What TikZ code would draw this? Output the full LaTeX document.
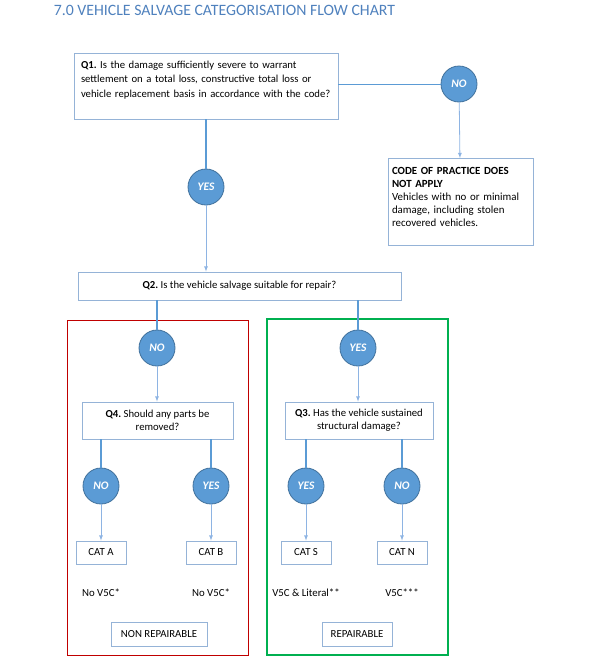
\documentclass[tikz,border=0pt]{standalone}
\usepackage{fontspec}
\setmainfont{Carlito}
\usepackage{xcolor}
\usepackage{tikz}
\usetikzlibrary{shapes,arrows}
\frenchspacing
\definecolor{titleblue}{HTML}{4F81BD}
\definecolor{ansfill}{HTML}{5B9BD5}
\definecolor{ansedge}{HTML}{41719C}
\definecolor{boxedge}{HTML}{95B3D7}
\definecolor{thinblue}{HTML}{8EB4E3}
\definecolor{nonred}{HTML}{C00000}
\definecolor{repgreen}{HTML}{00B050}
\tikzstyle{question} = [rectangle, draw=boxedge, fill=white, line width=0.8pt,
    font=\fontsize{10.7}{14.5}\selectfont, text centered]
\tikzstyle{notebox} = [rectangle, draw=boxedge, fill=white, line width=0.8pt,
    font=\fontsize{10.9}{13}\selectfont, text width=137pt, align=left,
    minimum width=145pt, minimum height=87pt, inner xsep=4pt]
\tikzstyle{answer} = [circle, draw=ansedge, fill=ansfill, line width=0.8pt,
    minimum size=36pt, inner sep=0pt, text=white,
    font=\fontsize{11.5}{12}\selectfont\bfseries\itshape]
\tikzstyle{catbox} = [rectangle, draw=boxedge, fill=white, line width=0.8pt,
    minimum width=50pt, minimum height=23pt, inner sep=2pt,
    font=\fontsize{10.8}{12}\selectfont]
\tikzstyle{plain} = [font=\fontsize{10.8}{12}\selectfont]
\tikzstyle{arrow} = [draw=thinblue, -latex, line width=0.8pt]
\tikzstyle{line} = [draw=ansfill, line width=1.8pt]

\begin{document}
\begin{tikzpicture}[x=1pt, y=-1pt, node distance=66.5pt]
    \useasboundingbox (0,0) rectangle (590,664);
    % Title
    \node [text=titleblue, font=\fontsize{15.8}{18}\selectfont] (title) at (224.5,10.5)
        {7.0 VEHICLE SALVAGE CATEGORISATION FLOW CHART};
    % Place nodes
    \node [question, text width=250pt, align=left, minimum height=66pt, inner xsep=7pt] (q1) at (206,86)
        {\textbf{Q1.} Is the damage sufficiently severe to warrant\\
         settlement on a total loss, constructive total loss or\\
         vehicle replacement basis in accordance with the code?\\[-1pt]\mbox{}};
    \node [answer] (noA) at (459,84) {NO};
    \node [notebox] (code) at (460.5,202)
        {\textbf{CODE OF PRACTICE DOES}\\
         \textbf{NOT APPLY}\\
         Vehicles with no or minimal\\
         damage, including stolen\\
         recovered vehicles.\\[-3pt]\mbox{}};
    \node [answer, below of=q1, node distance=101pt] (yes1) {YES};
    \node [question, minimum width=323pt, minimum height=28pt] (q2) at (239.5,286)
        {\textbf{Q2.} Is the vehicle salvage suitable for repair?};
    \node [answer] (noB) at (157,348) {NO};
    \node [answer] (yesB) at (358,348) {YES};
%    Q4 is the non repairable side, Q3 the repairable side
    \node [question, minimum width=151pt, minimum height=37pt, align=center,
        font=\fontsize{10.7}{13}\selectfont] (q4) at (157.5,420.5)
        {\textbf{Q4.} Should any parts be\\removed?};
    \node [question, minimum width=148pt, minimum height=37pt, align=center,
        font=\fontsize{10.7}{13}\selectfont] (q3) at (359,420.5)
        {\textbf{Q3.} Has the vehicle sustained\\structural damage?};
    \node [answer] (noC) at (101,486) {NO};
    \node [answer] (yesC) at (211,486) {YES};
    \node [answer] (yesD) at (306,486) {YES};
    \node [answer] (noD) at (402,486) {NO};
    \node [catbox, below of=noC] (catA) {CAT A};
    \node [catbox, below of=yesC] (catB) {CAT B};
    \node [catbox, below of=yesD] (catS) {CAT S};
    \node [catbox, below of=noD] (catN) {CAT N};
    \node [plain, below of=catA, node distance=40.5pt] (docA) {No V5C*};
    \node [plain, below of=catB, node distance=40.5pt] (docB) {No V5C*};
    \node [plain, below of=catS, node distance=40.5pt] (docS) {V5C \& Literal**};
    \node [plain, below of=catN, node distance=40.5pt] (docN) {V5C***};
    \node [catbox, minimum width=96pt, minimum height=24pt] (nonrep) at (159,634) {NON REPAIRABLE};
    \node [catbox, minimum width=70pt, minimum height=24pt] (rep) at (357,634) {REPAIRABLE};
    % Frames
    \draw [nonred, line width=0.8pt] (67,320) rectangle (248,655);
    \draw [repgreen, line width=2.2pt] (267,319) rectangle (448,655);

    \path [line, line width=1pt] (q1.east |- noA) -- (noA);
    \path [arrow] (noA) -- (code);
    \path [line] (q1) -- (yes1);
    \path [arrow] (yes1) -- (yes1 |- q2.north);
    \path [line] (noB |- q2.south) -- (noB);
    \path [line] (yesB |- q2.south) -- (yesB);
    \path [arrow] (noB) -- (noB |- q4.north);
    \path [arrow] (yesB) -- (yesB |- q3.north);
    \path [line] (noC |- q4.south) -- (noC);
    \path [line] (yesC |- q4.south) -- (yesC);
    \path [line] (yesD |- q3.south) -- (yesD);
    \path [line] (noD |- q3.south) -- (noD);
    \path [arrow] (noC) -- (catA);
    \path [arrow] (yesC) -- (catB);
    \path [arrow] (yesD) -- (catS);
    \path [arrow] (noD) -- (catN);
  \end{tikzpicture}
\end{document}
